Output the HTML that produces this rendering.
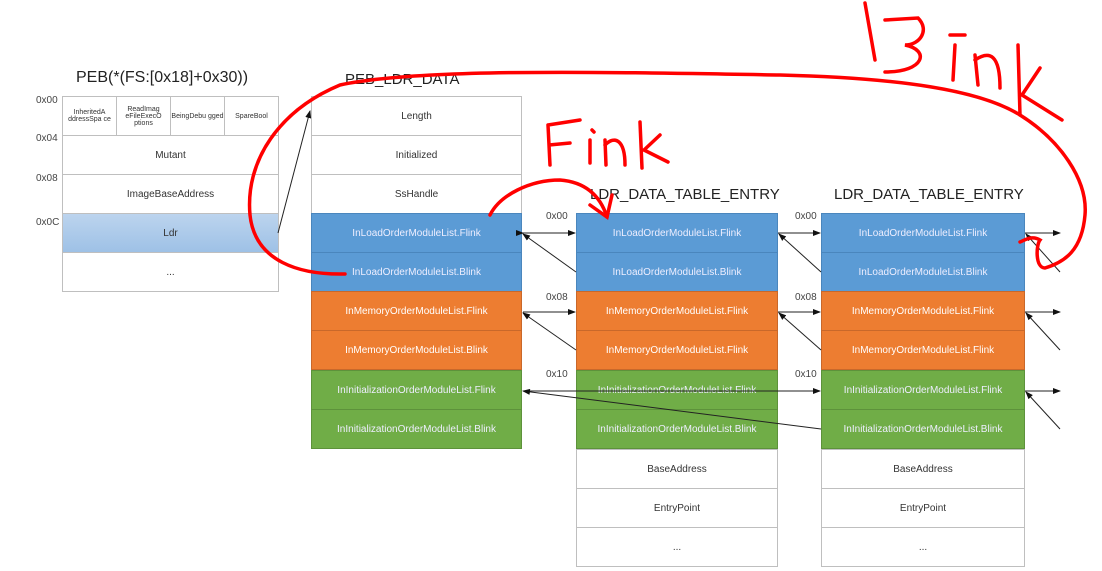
<!DOCTYPE html>
<html><head><meta charset="utf-8"><style>
body{margin:0;width:1102px;height:571px;background:#fff;overflow:hidden;font-family:"Liberation Sans",sans-serif;position:relative}
.c{position:absolute;box-sizing:border-box;border:1px solid #bfbfbf;display:flex;align-items:center;justify-content:center;text-align:center;font-size:10px;color:#333}
.b{background:#5b9bd5;color:#eef;border-color:#4a86bd}
.o{background:#ed7d31;color:#fff;border-color:#c9682a}
.g{background:#70ad47;color:#eef;border-color:#5d923b}
.t{position:absolute;font-size:15px;color:#222}
.off{position:absolute;font-size:10px;color:#444}
</style></head><body>
<div class="t" style="left:76px;top:69px;font-size:16px">PEB(*(FS:[0x18]+0x30))</div>
<div class="t" style="left:345px;top:71px">PEB_LDR_DATA</div>
<div class="t" style="left:590px;top:186px">LDR_DATA_TABLE_ENTRY</div>
<div class="t" style="left:834px;top:186px">LDR_DATA_TABLE_ENTRY</div>
<div class="off" style="left:36px;top:95px">0x00</div>
<div class="off" style="left:36px;top:133px">0x04</div>
<div class="off" style="left:36px;top:173px">0x08</div>
<div class="off" style="left:36px;top:217px">0x0C</div>
<div class="c" style="left:62px;top:96px;width:55px;height:40px;font-size:7px">InheritedA ddressSpa ce</div>
<div class="c" style="left:116px;top:96px;width:55px;height:40px;font-size:7px">ReadImag eFileExecO ptions</div>
<div class="c" style="left:170px;top:96px;width:55px;height:40px;font-size:7px">BeingDebu gged</div>
<div class="c" style="left:224px;top:96px;width:55px;height:40px;font-size:7px">SpareBool</div>
<div class="c" style="left:62px;top:135px;width:217px;height:40px">Mutant</div>
<div class="c" style="left:62px;top:174px;width:217px;height:40px">ImageBaseAddress</div>
<div class="c" style="left:62px;top:213px;width:217px;height:40px;background:linear-gradient(#bcd4ee,#9ec1e6)">Ldr</div>
<div class="c" style="left:62px;top:252px;width:217px;height:40px">...</div>

<div class="c" style="left:311px;top:96px;width:211px;height:40px">Length</div>
<div class="c" style="left:311px;top:135px;width:211px;height:40px">Initialized</div>
<div class="c" style="left:311px;top:174px;width:211px;height:40px">SsHandle</div>
<div class="c b" style="left:311px;top:213px;width:211px;height:40px">InLoadOrderModuleList.Flink</div>
<div class="c b" style="left:311px;top:252px;width:211px;height:40px">InLoadOrderModuleList.Blink</div>
<div class="c o" style="left:311px;top:291px;width:211px;height:40px">InMemoryOrderModuleList.Flink</div>
<div class="c o" style="left:311px;top:330px;width:211px;height:40px">InMemoryOrderModuleList.Blink</div>
<div class="c g" style="left:311px;top:370px;width:211px;height:40px">InInitializationOrderModuleList.Flink</div>
<div class="c g" style="left:311px;top:409px;width:211px;height:40px">InInitializationOrderModuleList.Blink</div>

<div class="off" style="left:546px;top:211px">0x00</div>
<div class="off" style="left:546px;top:292px">0x08</div>
<div class="off" style="left:546px;top:369px">0x10</div>
<div class="off" style="left:795px;top:211px">0x00</div>
<div class="off" style="left:795px;top:292px">0x08</div>
<div class="off" style="left:795px;top:369px">0x10</div>

<div class="c b" style="left:576px;top:213px;width:202px;height:40px">InLoadOrderModuleList.Flink</div>
<div class="c b" style="left:576px;top:252px;width:202px;height:40px">InLoadOrderModuleList.Blink</div>
<div class="c o" style="left:576px;top:291px;width:202px;height:40px">InMemoryOrderModuleList.Flink</div>
<div class="c o" style="left:576px;top:330px;width:202px;height:40px">InMemoryOrderModuleList.Flink</div>
<div class="c g" style="left:576px;top:370px;width:202px;height:40px">InInitializationOrderModuleList.Flink</div>
<div class="c g" style="left:576px;top:409px;width:202px;height:40px">InInitializationOrderModuleList.Blink</div>
<div class="c" style="left:576px;top:449px;width:202px;height:40px">BaseAddress</div>
<div class="c" style="left:576px;top:488px;width:202px;height:40px">EntryPoint</div>
<div class="c" style="left:576px;top:527px;width:202px;height:40px">...</div>

<div class="c b" style="left:821px;top:213px;width:204px;height:40px">InLoadOrderModuleList.Flink</div>
<div class="c b" style="left:821px;top:252px;width:204px;height:40px">InLoadOrderModuleList.Blink</div>
<div class="c o" style="left:821px;top:291px;width:204px;height:40px">InMemoryOrderModuleList.Flink</div>
<div class="c o" style="left:821px;top:330px;width:204px;height:40px">InMemoryOrderModuleList.Flink</div>
<div class="c g" style="left:821px;top:370px;width:204px;height:40px">InInitializationOrderModuleList.Flink</div>
<div class="c g" style="left:821px;top:409px;width:204px;height:40px">InInitializationOrderModuleList.Blink</div>
<div class="c" style="left:821px;top:449px;width:204px;height:40px">BaseAddress</div>
<div class="c" style="left:821px;top:488px;width:204px;height:40px">EntryPoint</div>
<div class="c" style="left:821px;top:527px;width:204px;height:40px">...</div>

<svg width="1102" height="571" style="position:absolute;left:0;top:0">
<defs><marker id="a" markerWidth="8" markerHeight="6" refX="7" refY="3" orient="auto" markerUnits="userSpaceOnUse"><path d="M0,0L8,3L0,6z" fill="#111"/></marker></defs>
<g stroke="#222" stroke-width="1" fill="none">
<line x1="278" y1="233" x2="310" y2="111" marker-end="url(#a)"/>
<line x1="523" y1="233" x2="575" y2="233" marker-end="url(#a)" marker-start="url(#a)"/>
<line x1="576" y1="272" x2="523" y2="234" marker-end="url(#a)"/>
<line x1="523" y1="312" x2="575" y2="312" marker-end="url(#a)"/>
<line x1="576" y1="350" x2="523" y2="313" marker-end="url(#a)"/>
<line x1="523" y1="391" x2="820" y2="391" marker-end="url(#a)"/>
<line x1="821" y1="429" x2="523" y2="391" marker-end="url(#a)"/>
<line x1="778" y1="233" x2="820" y2="233" marker-end="url(#a)"/>
<line x1="821" y1="272" x2="779" y2="234" marker-end="url(#a)"/>
<line x1="778" y1="312" x2="820" y2="312" marker-end="url(#a)"/>
<line x1="821" y1="350" x2="779" y2="313" marker-end="url(#a)"/>
<line x1="1025" y1="233" x2="1060" y2="233" marker-end="url(#a)"/>
<line x1="1060" y1="272" x2="1026" y2="234" marker-end="url(#a)"/>
<line x1="1025" y1="312" x2="1060" y2="312" marker-end="url(#a)"/>
<line x1="1060" y1="350" x2="1026" y2="313" marker-end="url(#a)"/>
<line x1="1025" y1="391" x2="1060" y2="391" marker-end="url(#a)"/>
<line x1="1060" y1="429" x2="1026" y2="392" marker-end="url(#a)"/>
</g>
<g stroke="#f00" stroke-width="3.5" fill="none" stroke-linecap="round">
<path d="M345,274 C300,275 255,262 250,215 C245,160 280,110 340,85 C420,68 600,72 780,75 C900,78 980,90 1020,115 C1060,140 1088,180 1085,215 C1082,250 1065,262 1045,268 C1035,268 1036,245 1040,240 C1032,235 1025,240 1020,242"/>
<path d="M490,215 C500,195 530,180 560,180 C585,182 600,195 607,217"/>
<path d="M590,205 L607,217 L612,195"/>
<path d="M865,3 L875,60 M885,20 L918,18 C930,30 920,45 905,45 C930,50 925,72 885,72 M950,35 L965,35 M955,45 L953,80 M975,55 L978,85 M975,60 C990,50 1000,55 1000,88 M1018,45 L1020,115 M1040,68 L1022,95 L1062,120"/>
<path d="M548,125 L550,165 M548,125 L580,120 M549,145 L570,143 M590,140 L590,163 M592,130 L594,132 M605,140 L606,165 M605,145 C615,135 625,140 625,165 M640,122 L642,168 M660,135 L644,150 L668,162"/>
</g>
</svg>
</body></html>
